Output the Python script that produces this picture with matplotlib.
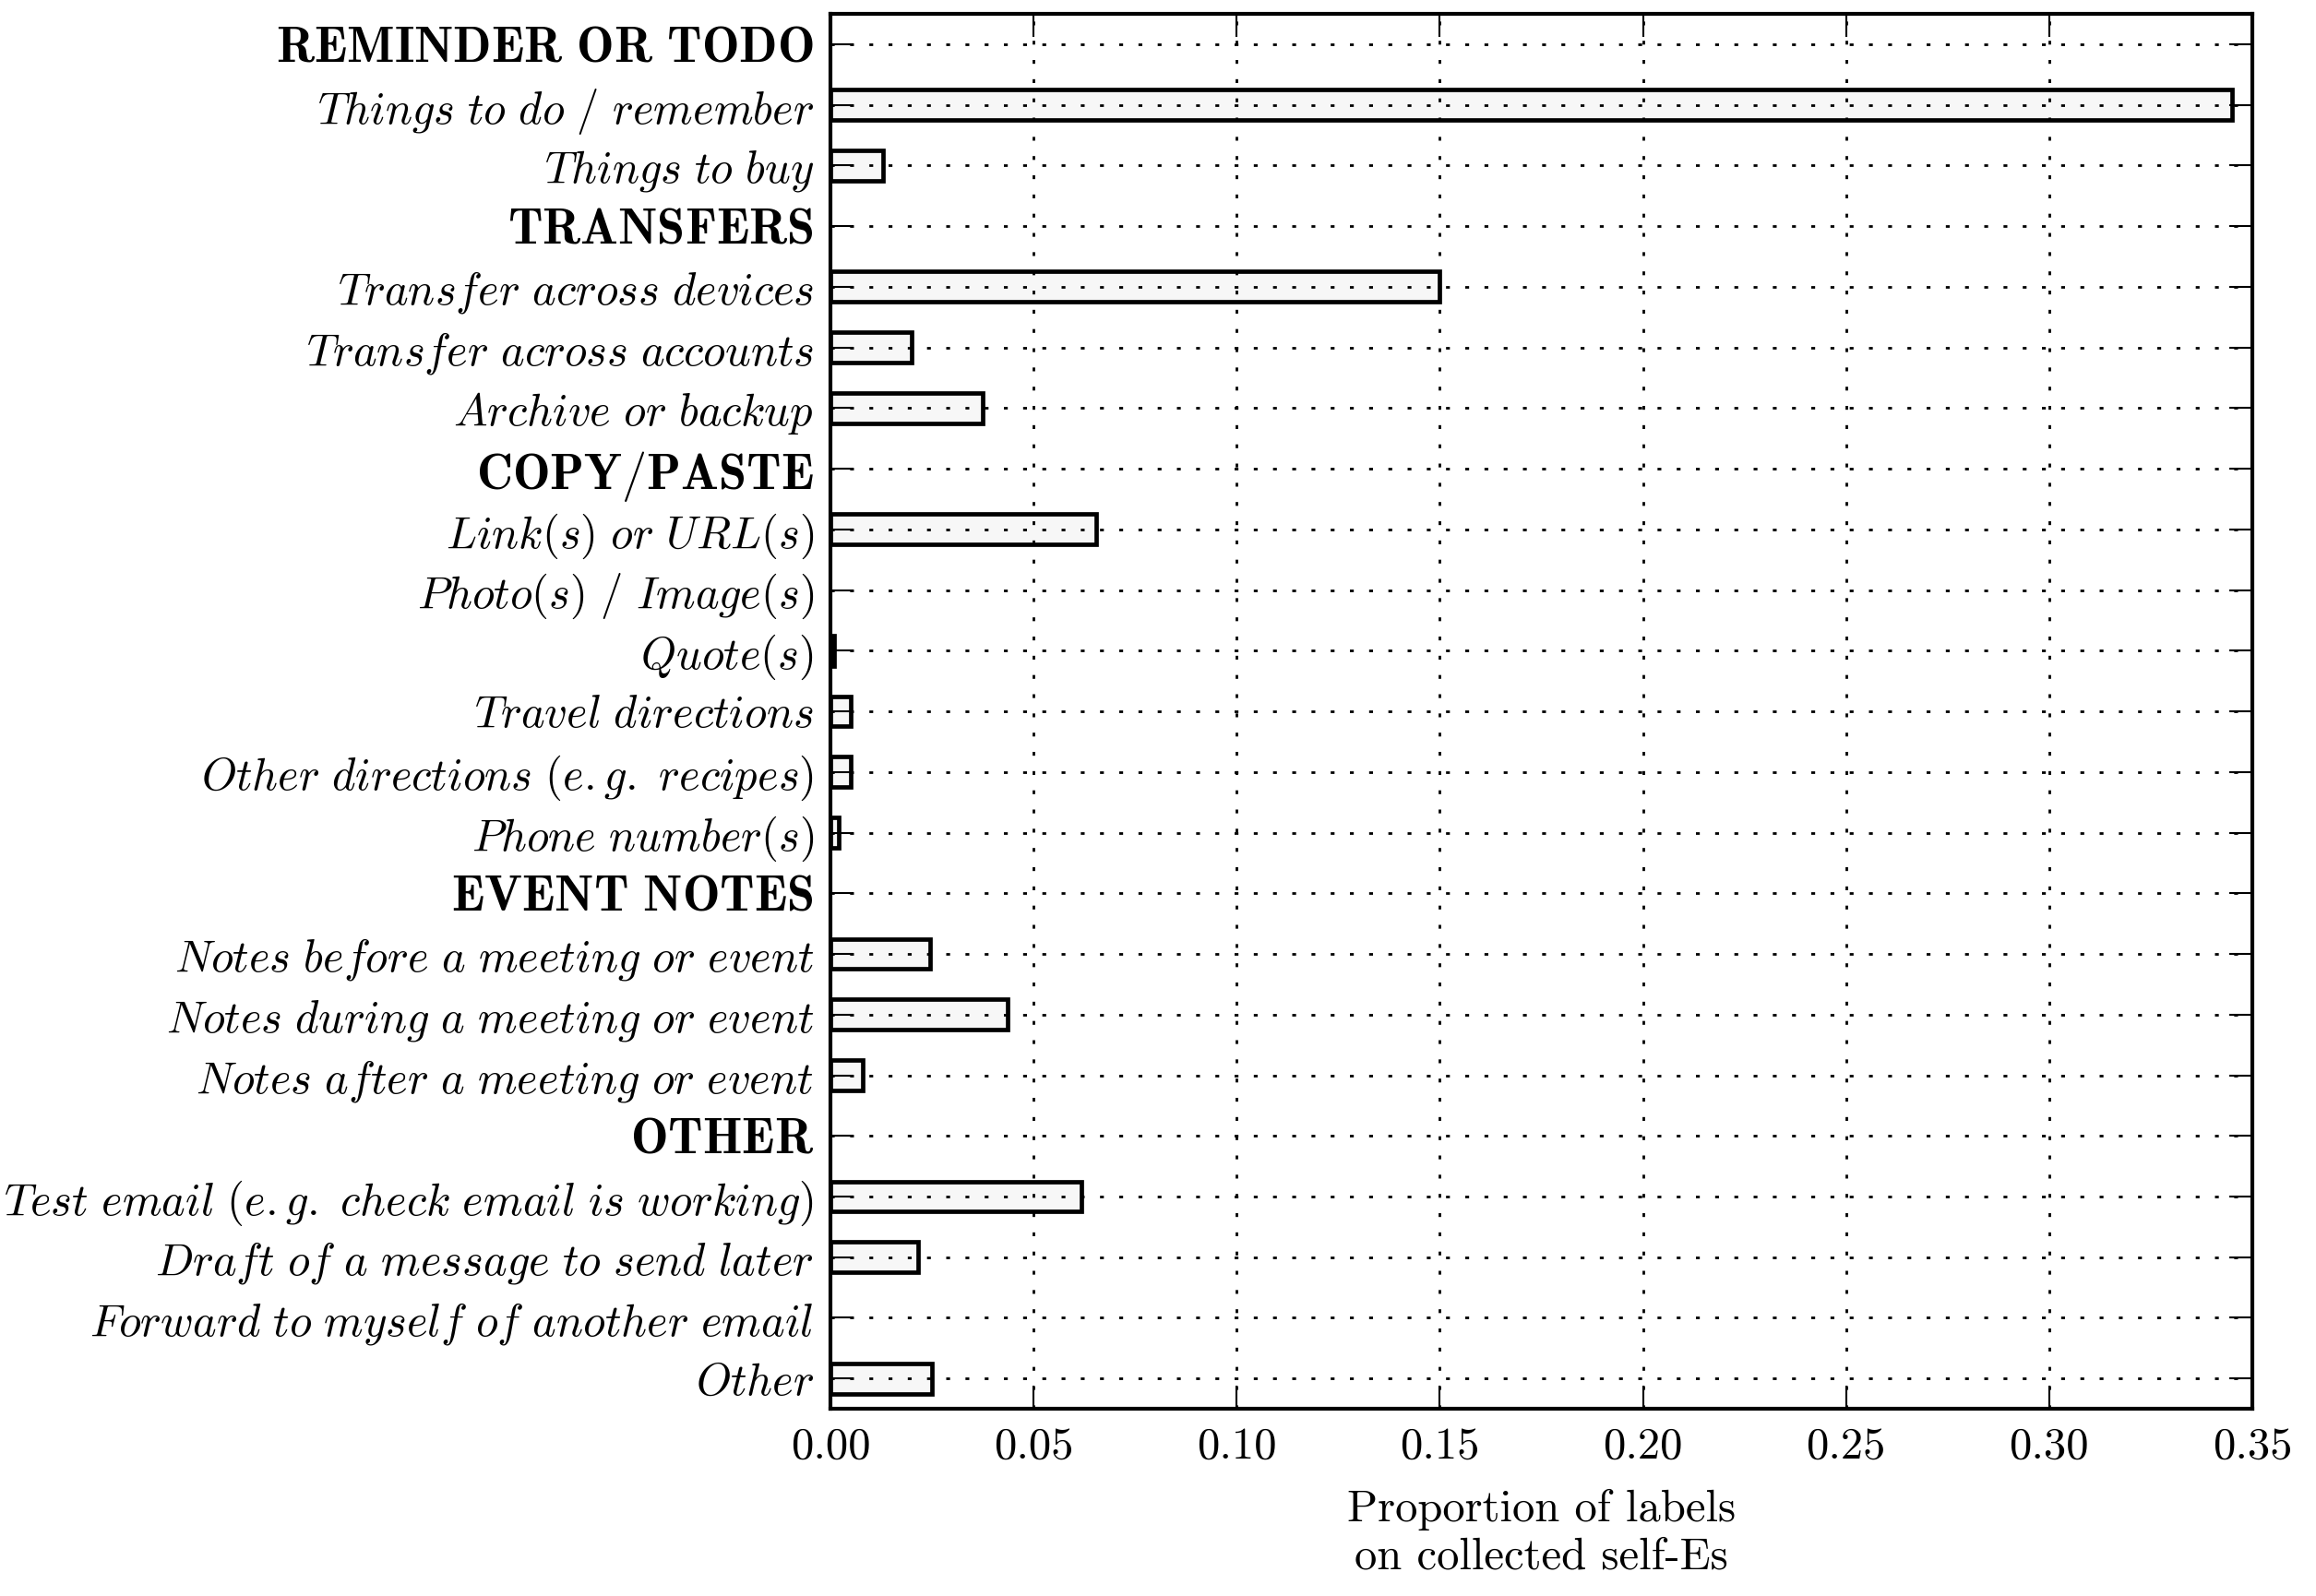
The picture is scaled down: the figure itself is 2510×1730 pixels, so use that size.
import matplotlib
matplotlib.use("Agg")
import matplotlib.pyplot as plt

plt.rcParams['mathtext.fontset'] = 'cm'
plt.rcParams['font.family'] = 'serif'
plt.rcParams['font.serif'] = ['cmr10', 'DejaVu Serif']
plt.rcParams['axes.formatter.use_mathtext'] = True

categories = [
    ("REMINDER OR TODO", True),
    ("Things to do / remember", False),
    ("Things to buy", False),
    ("TRANSFERS", True),
    ("Transfer across devices", False),
    ("Transfer across accounts", False),
    ("Archive or backup", False),
    ("COPY/PASTE", True),
    ("Link(s) or URL(s)", False),
    ("Photo(s) / Image(s)", False),
    ("Quote(s)", False),
    ("Travel directions", False),
    ("Other directions (e.g. recipes)", False),
    ("Phone number(s)", False),
    ("EVENT NOTES", True),
    ("Notes before a meeting or event", False),
    ("Notes during a meeting or event", False),
    ("Notes after a meeting or event", False),
    ("OTHER", True),
    ("Test email (e.g. check email is working)", False),
    ("Draft of a message to send later", False),
    ("Forward to myself of another email", False),
    ("Other", False),
]
values = [0.0, 0.345, 0.013,
          0.0, 0.150, 0.020, 0.0375,
          0.0, 0.0655, 0.0, 0.0008, 0.005, 0.005, 0.002,
          0.0, 0.0244, 0.0437, 0.008,
          0.0, 0.0618, 0.0215, 0.0, 0.025]
xticks = [0.00, 0.05, 0.10, 0.15, 0.20, 0.25, 0.30, 0.35]
xlabel = "Proportion of labels\non collected self-Es"


def mt(s, bold):
    s = s.replace(" ", r"\ ")
    return (r"$\mathbf{%s}$" if bold else r"$\mathit{%s}$") % s


fig = plt.figure(figsize=(25.1, 17.3), dpi=100)
ax = fig.add_axes([0.3586, 0.1173, 0.6139, 0.8740])

ypos = list(range(len(categories)))
edge_w = [3.4 if v > 0 else 0 for v in values]
ax.barh(ypos, values, height=0.5, color='#f7f7f7', edgecolor='black',
        linewidth=edge_w, zorder=1)

ax.set_ylim(len(categories) - 0.5, -0.5)
ax.set_xlim(0, 0.35)
ax.set_yticks(ypos)
ax.set_yticklabels([mt(c, b) for c, b in categories], fontsize=35)
for lbl, (c, b) in zip(ax.get_yticklabels(), categories):
    if b:
        lbl.set_fontsize(39)
ax.set_xticks(xticks)
ax.set_xticklabels(["%.2f" % t for t in xticks], fontsize=35)

ax.grid(True, color='black', linestyle=(0, (1.5, 6)), linewidth=2)
ax.set_axisbelow(False)

ax.tick_params(axis='both', which='major', direction='in', length=18,
               width=1.5, top=True, right=True, color='black')
ax.tick_params(axis='y', pad=13)
ax.tick_params(axis='x', pad=14)

for sp in ax.spines.values():
    sp.set_linewidth(3)
    sp.set_zorder(5)

ax.set_xlabel(xlabel, fontsize=35, linespacing=1.2, labelpad=17)

fig.savefig("out.png", dpi=100)
